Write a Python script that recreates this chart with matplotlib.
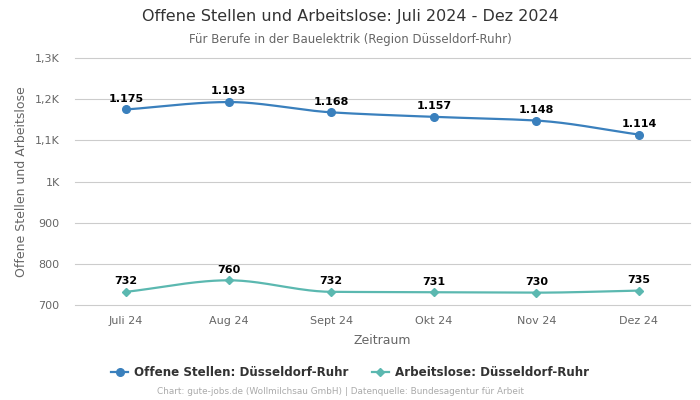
import matplotlib
matplotlib.use("Agg")
import matplotlib.pyplot as plt
import numpy as np

##---------------------------data-------------------------------##
months = ["Juli 24", "Aug 24", "Sept 24", "Okt 24", "Nov 24", "Dez 24"]
offene_stellen = [1175, 1193, 1168, 1157, 1148, 1114]
arbeitslose = [732, 760, 732, 731, 730, 735]
y_ticks = [700, 800, 900, 1000, 1100, 1200, 1300]
y_tick_labels = ["700", "800", "900", "1K", "1,1K", "1,2K", "1,3K"]

blue = "#3a80bd"
teal = "#5bb8b0"


def monotone(x, y, n=200):
    #  Fritsch-Carlson monotone cubic, only for drawing the smooth line
    x = np.asarray(x, float)
    y = np.asarray(y, float)
    h = np.diff(x)
    d = np.diff(y) / h
    m = np.zeros_like(y)
    m[0], m[-1] = d[0], d[-1]
    for i in range(1, len(y) - 1):
        if d[i - 1] * d[i] <= 0:
            m[i] = 0
        else:
            m[i] = 3 * (h[i - 1] + h[i]) / ((2 * h[i] + h[i - 1]) / d[i - 1] + (h[i] + 2 * h[i - 1]) / d[i])
    xs = np.linspace(x[0], x[-1], n)
    idx = np.clip(np.searchsorted(x, xs) - 1, 0, len(x) - 2)
    t = (xs - x[idx]) / h[idx]
    h00 = 2 * t ** 3 - 3 * t ** 2 + 1
    h10 = t ** 3 - 2 * t ** 2 + t
    h01 = -2 * t ** 3 + 3 * t ** 2
    h11 = t ** 3 - t ** 2
    ys = h00 * y[idx] + h10 * h[idx] * m[idx] + h01 * y[idx + 1] + h11 * h[idx] * m[idx + 1]
    return xs, ys


def fmt(v):
    return f"{v:,}".replace(",", ".")


fig = plt.figure(figsize=(7, 4), dpi=100)
ax = fig.add_axes([0.107, 0.2375, 0.879, 0.6175])

x = np.arange(len(months))

xs, ys = monotone(x, offene_stellen)
ax.plot(xs, ys, color=blue, lw=1.6, zorder=3)
ax.plot(x, offene_stellen, "o", color=blue, ms=5.5, zorder=4)

xs, ys = monotone(x, arbeitslose)
ax.plot(xs, ys, color=teal, lw=1.6, zorder=3)
ax.plot(x, arbeitslose, "D", color=teal, ms=4, zorder=4)

for xi, v in zip(x, offene_stellen):
    ax.annotate(fmt(v), (xi, v), xytext=(0, 4), textcoords="offset points",
                ha="center", va="bottom", fontsize=8, fontweight="bold", color="black")
for xi, v in zip(x, arbeitslose):
    ax.annotate(fmt(v), (xi, v), xytext=(0, 4), textcoords="offset points",
                ha="center", va="bottom", fontsize=8, fontweight="bold", color="black")

ax.set_xlim(-0.5, len(months) - 0.5)
ax.set_ylim(700, 1300)
ax.set_yticks(y_ticks)
ax.set_yticklabels(y_tick_labels)
ax.set_xticks(x)
ax.set_xticklabels(months)
ax.tick_params(axis="both", length=0, labelsize=8, colors="#666666")
ax.tick_params(axis="y", pad=11)
ax.tick_params(axis="x", pad=8)
for yt in y_ticks:
    ax.axhline(yt, color="#cccccc", lw=0.8, zorder=1, clip_on=False)
for s in ax.spines.values():
    s.set_visible(False)

ax.set_xlabel("Zeitraum", fontsize=9, color="#666666", labelpad=6)
ax.set_ylabel("Offene Stellen und Arbeitslose", fontsize=9, color="#666666", labelpad=5)

fig.text(0.5, 0.958, "Offene Stellen und Arbeitslose: Juli 2024 - Dez 2024",
         ha="center", va="center", fontsize=11.5, color="#333333")
fig.text(0.5, 0.902, "Für Berufe in der Bauelektrik (Region Düsseldorf-Ruhr)",
         ha="center", va="center", fontsize=8.5, color="#666666")

h1 = plt.Line2D([], [], color=blue, marker="o", ms=5.5, lw=1.6)
h2 = plt.Line2D([], [], color=teal, marker="D", ms=4, lw=1.6)
leg = fig.legend([h1, h2], ["Offene Stellen: Düsseldorf-Ruhr", "Arbeitslose: Düsseldorf-Ruhr"],
                 loc="center", bbox_to_anchor=(0.5, 0.068), ncol=2, frameon=False,
                 prop={"size": 8.6, "weight": "bold"}, handlelength=1.4, columnspacing=2.0,
                 handletextpad=0.5)
for t in leg.get_texts():
    t.set_color("#333333")

fig.text(0.486, 0.02, "Chart: gute-jobs.de (Wollmilchsau GmbH) | Datenquelle: Bundesagentur für Arbeit",
         ha="center", va="center", fontsize=6.4, color="#aaaaaa")

fig.savefig("out.png", dpi=100)
